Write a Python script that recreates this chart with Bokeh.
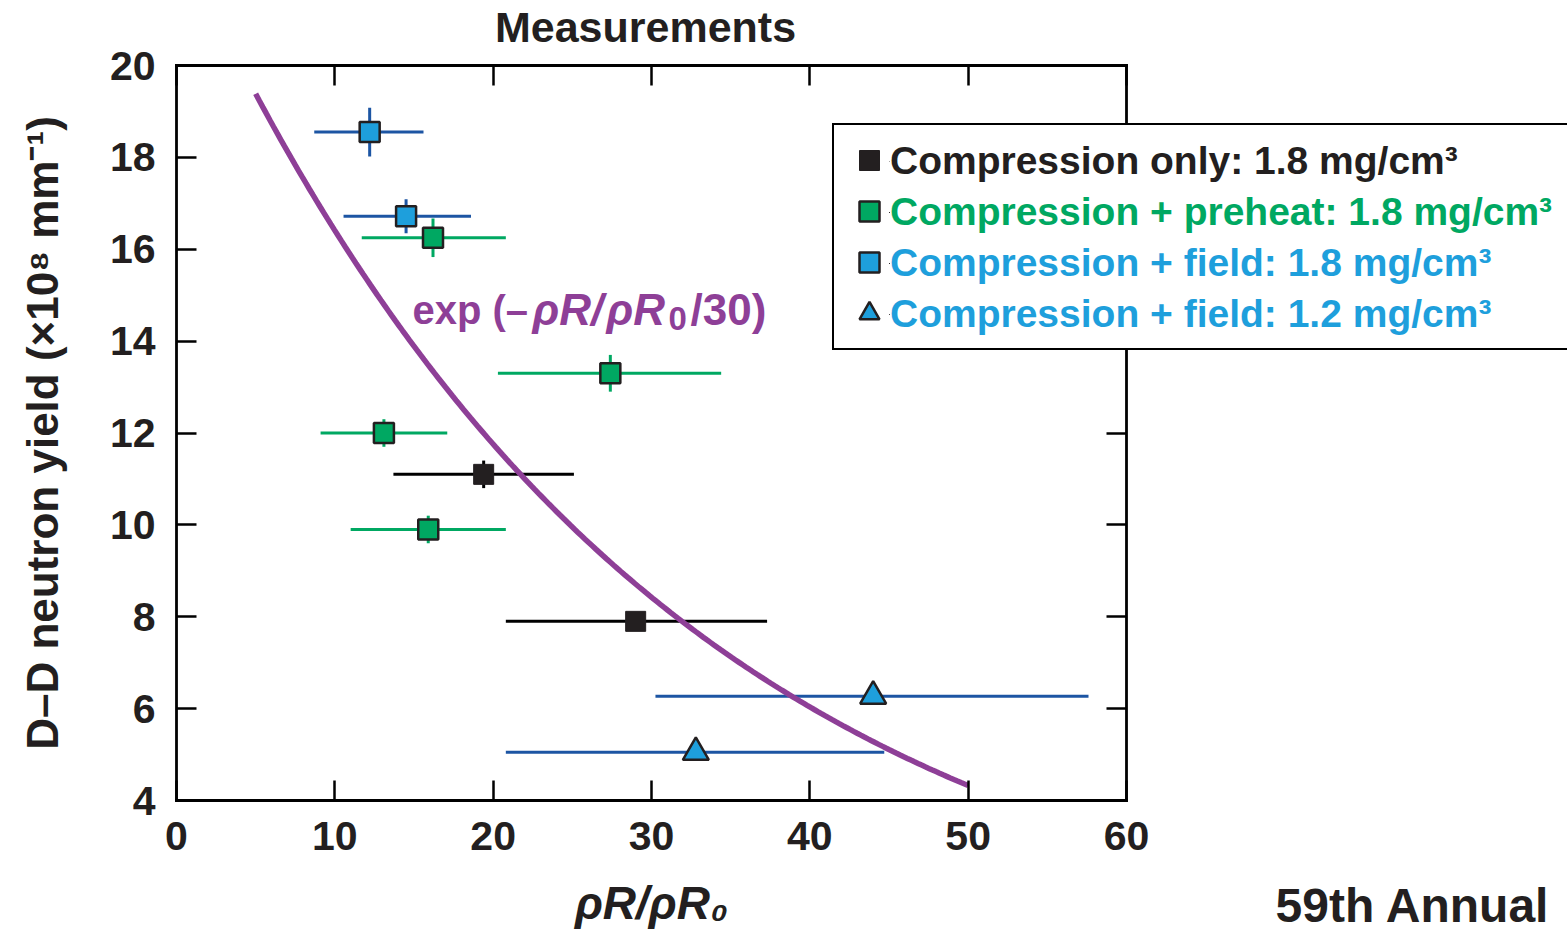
import numpy as np
from bokeh.plotting import figure
from bokeh.models import (Range1d, LinearAxis, Label, Legend, LegendItem,
                          FixedTicker, ColumnDataSource)
from bokeh.embed import file_html
from bokeh.resources import INLINE

# ---------------- data ----------------
x_ticks = [0, 10, 20, 30, 40, 50, 60]
y_ticks = [4, 6, 8, 10, 12, 14, 16, 18, 20]
x_lim = (0, 60)
y_lim = (4, 20)

# Compression only: 1.8 mg/cm3
only_x = [19.4, 29.0]
only_y = [11.1, 7.9]
only_xlo = [13.7, 20.8]
only_xhi = [25.1, 37.3]
only_yerr = [0.3, 0.0]

# Compression + preheat: 1.8 mg/cm3
pre_x = [16.2, 27.4, 13.1, 15.9]
pre_y = [16.25, 13.3, 12.0, 9.9]
pre_xlo = [11.7, 20.3, 9.1, 11.0]
pre_xhi = [20.8, 34.4, 17.1, 20.8]
pre_yerr = [0.42, 0.4, 0.3, 0.3]

# Compression + field: 1.8 mg/cm3
f18_x = [12.2, 14.5]
f18_y = [18.55, 16.72]
f18_xlo = [8.7, 10.55]
f18_xhi = [15.6, 18.6]
f18_yerr = [0.53, 0.37]

# Compression + field: 1.2 mg/cm3
f12_x = [44.0, 32.8]
f12_y = [6.27, 5.05]
f12_xlo = [30.25, 20.8]
f12_xhi = [57.6, 44.7]

# model curve  A * exp(-rhoR/rhoR0/30)
fit_amp = 22.9
fit_scale = 30.0
fit_xmin, fit_xmax = 5.0, 50.0

legend_labels = ["Compression only: 1.8 mg/cm³",
                 "Compression + preheat: 1.8 mg/cm³",
                 "Compression + field: 1.8 mg/cm³",
                 "Compression + field: 1.2 mg/cm³"]

# ---------------- layout / styles ----------------
W, H = 1567, 934
BOX_L, BOX_R, BOX_T, BOX_B = 176, 1126, 65, 800   # plot box in canvas px
kx = (BOX_R - BOX_L) / (x_lim[1] - x_lim[0])
ky = (BOX_B - BOX_T) / (y_lim[1] - y_lim[0])
xr = Range1d(x_lim[0] - BOX_L / kx, x_lim[1] + (W - BOX_R) / kx)
yr = Range1d(y_lim[0] - (H - BOX_B) / ky, y_lim[1] + BOX_T / ky)

FONT = "Liberation Sans"
INK = "#231f20"
GREEN = "#00a862"
BLUE = "#1e9fdc"
DBLUE = "#1c55a3"
PURPLE = "#8e3f97"
BASE_FIX = 16   # label baseline correction (px)


def sy(py):           # canvas y (from top) -> screen units (from bottom)
    return H - py


def base(py):         # wanted text baseline (from top) -> label y
    return H - (py - BASE_FIX)


p = figure(width=W, height=H, x_range=xr, y_range=yr,
           output_backend="svg", toolbar_location=None, min_border=0,
           background_fill_color="white", border_fill_color="white")
p.title.visible = False
p.grid.visible = False
p.outline_line_color = None

p.add_layout(LinearAxis(), "above")
p.add_layout(LinearAxis(), "right")
ax_b = p.below[0]
ax_l = p.left[0]
ax_t = p.above[0]
ax_r = p.right[0]


def style_axis(ax, ticks, loc, bounds, show_labels=True):
    ax.fixed_location = loc
    ax.bounds = bounds
    ax.ticker = FixedTicker(ticks=ticks)
    ax.major_tick_in = 20
    ax.major_tick_out = 0
    ax.minor_tick_line_color = None
    ax.major_tick_line_width = 2.5
    ax.major_tick_line_color = "black"
    ax.axis_line_width = 2.8
    ax.axis_line_color = "black"
    ax.axis_line_cap = "square"
    ax.major_label_text_font = FONT
    ax.major_label_text_font_style = "bold"
    ax.major_label_text_color = INK
    if show_labels:
        ax.major_label_text_font_size = "41px"
        ax.major_label_standoff = 21
    else:
        ax.major_label_text_font_size = "1px"
        ax.major_label_text_alpha = 0
        ax.major_label_standoff = 0


style_axis(ax_b, x_ticks, y_lim[0], x_lim, True)
style_axis(ax_t, x_ticks, y_lim[1], x_lim, False)
style_axis(ax_l, y_ticks, x_lim[0], y_lim, True)
style_axis(ax_r, y_ticks, x_lim[1], y_lim, False)

ax_b.axis_label = "ρR/ρR₀"
ax_b.axis_label_text_font = FONT
ax_b.axis_label_text_font_style = "bold italic"
ax_b.axis_label_text_font_size = "46px"
ax_b.axis_label_text_color = INK
ax_b.axis_label_standoff = 24

ax_l.axis_label = "D–D neutron yield (×10⁸ mm⁻¹)"
ax_l.axis_label_text_font = FONT
ax_l.axis_label_text_font_style = "bold"
ax_l.axis_label_text_font_size = "44px"
ax_l.axis_label_text_color = INK
ax_l.axis_label_standoff = 40


# ---------------- error bars ----------------
def bars(xs, ys, xlo, xhi, yerr, color):
    src = ColumnDataSource(dict(x=xs, y=ys, xlo=xlo, xhi=xhi,
                                ylo=[a - b for a, b in zip(ys, yerr)],
                                yhi=[a + b for a, b in zip(ys, yerr)]))
    p.segment(x0="xlo", y0="y", x1="xhi", y1="y", source=src,
              line_color=color, line_width=3)
    p.segment(x0="x", y0="ylo", x1="x", y1="yhi", source=src,
              line_color=color, line_width=3)


bars(only_x, only_y, only_xlo, only_xhi, only_yerr, "black")
bars(pre_x, pre_y, pre_xlo, pre_xhi, pre_yerr, GREEN)
bars(f18_x, f18_y, f18_xlo, f18_xhi, f18_yerr, DBLUE)
bars(f12_x, f12_y, f12_xlo, f12_xhi, [0.0] * len(f12_x), DBLUE)

# ---------------- model curve ----------------
fx = np.linspace(fit_xmin, fit_xmax, 200)
fy = fit_amp * np.exp(-fx / fit_scale)
p.line(fx, fy, line_color=PURPLE, line_width=5.5)

# ---------------- markers ----------------
r_only = p.scatter(only_x, only_y, marker="square", size=20,
                   fill_color=INK, line_color=INK, line_width=1)
r_pre = p.scatter(pre_x, pre_y, marker="square", size=20,
                  fill_color=GREEN, line_color=INK, line_width=2.5)
r_f18 = p.scatter(f18_x, f18_y, marker="square", size=20,
                  fill_color=BLUE, line_color=INK, line_width=2.5)
r_f12 = p.scatter(f12_x, f12_y, marker="triangle", size=26,
                  fill_color=BLUE, line_color=INK, line_width=2.5)
series = [r_only, r_pre, r_f18, r_f12]

# ---------------- legend: box + glyphs ----------------
legend = Legend(items=[LegendItem(label=" ", renderers=[r]) for r in series],
                location=(832, sy(350)), orientation="vertical",
                border_line_color="black", border_line_width=2.5,
                border_line_alpha=1.0,
                background_fill_color="white", background_fill_alpha=1.0,
                padding=10, spacing=1, margin=0,
                glyph_width=50, glyph_height=50,
                label_height=50, label_width=900, label_standoff=0,
                label_text_font_size="10px")
p.add_layout(legend)

# ---------------- legend: coloured texts (one legend per entry) ----------------
legend_colors = [INK, GREEN, BLUE, BLUE]
for i, (txt, col, r) in enumerate(zip(legend_labels, legend_colors, series)):
    center = 161 + 51 * i
    p.add_layout(Legend(items=[LegendItem(label=txt, renderers=[r])],
                        location=(889, sy(center + 25)), orientation="vertical",
                        border_line_alpha=0, background_fill_alpha=0,
                        padding=0, spacing=0, margin=0,
                        glyph_width=1, glyph_height=1, label_standoff=0,
                        label_height=50,
                        label_text_font=FONT, label_text_font_style="bold",
                        label_text_font_size="39px", label_text_color=col))

# ---------------- curve annotation ----------------
for txt, px, b, size, style in [("exp (–", 412, 325, "40px", "bold"),
                                 ("ρR/", 532, 325, "44px", "bold italic"),
                                 ("ρR", 606, 325, "44px", "bold italic"),
                                 ("0", 668, 334, "33px", "bold"),
                                 ("/30)", 690, 325, "44px", "bold")]:
    p.add_layout(Label(x=px, y=base(b), x_units="screen", y_units="screen",
                       text=txt, text_color=PURPLE, text_font=FONT,
                       text_font_style=style, text_font_size=size,
                       text_baseline="alphabetic", text_align="left",
                       level="overlay"))

# ---------------- title and footer ----------------
p.add_layout(Label(x=645, y=base(42), x_units="screen", y_units="screen",
                   text="Measurements", text_color=INK, text_font=FONT,
                   text_font_style="bold", text_font_size="43px",
                   text_baseline="alphabetic", text_align="center",
                   level="overlay"))
p.add_layout(Label(x=1275, y=base(921), x_units="screen", y_units="screen",
                   text="59th Annual", text_color=INK, text_font=FONT,
                   text_font_style="bold", text_font_size="48px",
                   text_baseline="alphabetic", text_align="left",
                   level="overlay"))

open("out.html", "w").write(file_html(p, INLINE))
